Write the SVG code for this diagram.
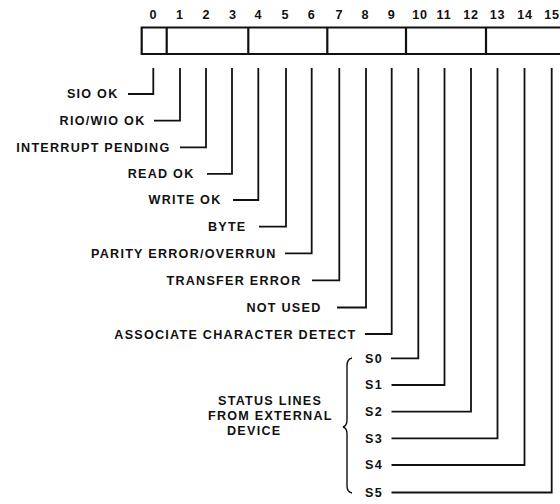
<svg xmlns="http://www.w3.org/2000/svg" width="560" height="504" viewBox="0 0 560 504">
<style>
text{font-family:"Liberation Sans",Arial,sans-serif;font-weight:bold;font-size:12.6px;letter-spacing:1.25px;fill:#111}
.lbl{text-anchor:end}
.num{text-anchor:middle;letter-spacing:0.8px}
.reg{fill:none;stroke:#111;stroke-width:2.2}
.w{fill:none;stroke:#111;stroke-width:1.8;stroke-linejoin:miter}
.br{fill:none;stroke:#111;stroke-width:1.4}
</style>
<rect width="560" height="504" fill="#fff"/>
<g id="register">
<path class="reg" d="M565,27.5 H141.7 V54 H565"/>
<path class="reg" d="M166.7,27.5 V54 M248.3,27.5 V54 M327.3,27.5 V54 M406,27.5 V54 M486,27.5 V54"/>
<g id="bit-numbers">
<text class="num" x="153.3" y="18.8">0</text>
<text class="num" x="180" y="18.8">1</text>
<text class="num" x="206.5" y="18.8">2</text>
<text class="num" x="233" y="18.8">3</text>
<text class="num" x="258.5" y="18.8">4</text>
<text class="num" x="285.5" y="18.8">5</text>
<text class="num" x="311.7" y="18.8">6</text>
<text class="num" x="339.3" y="18.8">7</text>
<text class="num" x="365.5" y="18.8">8</text>
<text class="num" x="391.7" y="18.8">9</text>
<text class="num" x="420" y="18.8">10</text>
<text class="num" x="444" y="18.8">11</text>
<text class="num" x="471" y="18.8">12</text>
<text class="num" x="497.5" y="18.8">13</text>
<text class="num" x="525" y="18.8">14</text>
<text class="num" x="552" y="18.8">15</text>
</g>
</g>
<g id="connectors">
<path class="w" d="M153.3,68 V94 H128"/>
<path class="w" d="M180,68 V120.7 H154"/>
<path class="w" d="M206,68 V147.3 H180"/>
<path class="w" d="M232,68 V173.8 H207"/>
<path class="w" d="M258.3,68 V200 H233"/>
<path class="w" d="M286,68 V226.7 H259"/>
<path class="w" d="M311.7,68 V253.3 H285"/>
<path class="w" d="M339.3,68 V280.3 H312"/>
<path class="w" d="M366,68 V307.5 H337"/>
<path class="w" d="M391.7,68 V334 H365"/>
<path class="w" d="M418.3,68 V358.3 H391"/>
<path class="w" d="M444.5,68 V385 H391.5"/>
<path class="w" d="M471,68 V411.7 H391.5"/>
<path class="w" d="M497.5,68 V438.3 H391.5"/>
<path class="w" d="M524.5,68 V465 H391.5"/>
<path class="w" d="M551.7,68 V492.5 H391.5"/>
</g>
<g id="bit0"><text class="lbl" x="118.5" y="98.3">SIO OK</text></g>
<g id="bit1"><text class="lbl" x="145.5" y="125">RIO/WIO OK</text></g>
<g id="bit2"><text class="lbl" x="170.5" y="151.7">INTERRUPT PENDING</text></g>
<g id="bit3"><text class="lbl" x="194.5" y="178.2">READ OK</text></g>
<g id="bit4"><text class="lbl" x="221.5" y="204.3">WRITE OK</text></g>
<g id="bit5"><text class="lbl" x="246.5" y="231">BYTE</text></g>
<g id="bit6"><text class="lbl" x="276.5" y="257.7">PARITY ERROR/OVERRUN</text></g>
<g id="bit7"><text class="lbl" x="301.5" y="284.7">TRANSFER ERROR</text></g>
<g id="bit8"><text class="lbl" x="321.5" y="311.8">NOT USED</text></g>
<g id="bit9"><text class="lbl" x="356.5" y="338.5">ASSOCIATE CHARACTER DETECT</text></g>
<g id="s0"><text x="365" y="362.7">S0</text></g>
<g id="s1"><text x="365" y="389.3">S1</text></g>
<g id="s2"><text x="365" y="416">S2</text></g>
<g id="s3"><text x="365" y="442.7">S3</text></g>
<g id="s4"><text x="365" y="469.3">S4</text></g>
<g id="s5"><text x="365" y="496.8">S5</text></g>
<g id="status-lines">
<path class="br" d="M352,358 Q347,359 347,366 L347,420 Q347,426 343,427 Q347,428 347,434 L347,486 Q347,492 352,493"/>
<text x="218" y="405">STATUS LINES</text>
<text x="208" y="420">FROM EXTERNAL</text>
<text x="227" y="434.5">DEVICE</text>
</g>
</svg>
